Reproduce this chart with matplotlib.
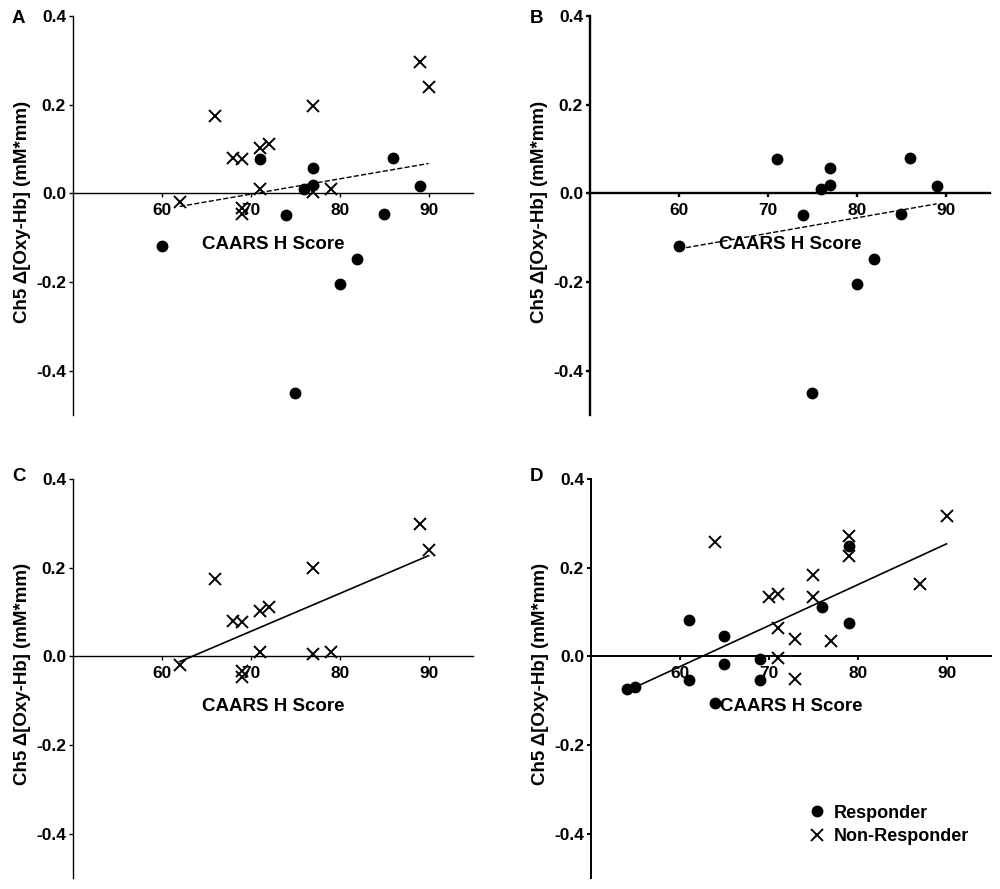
import numpy as np
import matplotlib
matplotlib.use('Agg')
import matplotlib.pyplot as plt
from matplotlib.lines import Line2D
from matplotlib.ticker import FormatStrFormatter

plt.rcParams['font.family'] = ['Liberation Sans', 'DejaVu Sans']
plt.rcParams['font.weight'] = 'bold'
plt.rcParams['axes.unicode_minus'] = False

# Panels A-C: same cohort (CAARS H score vs Ch5 change)
resp_x = [60, 71, 74, 76, 77, 77, 75, 80, 82, 85, 86, 89]
resp_y = [-0.119, 0.077, -0.049, 0.009, 0.058, 0.019, -0.451, -0.205, -0.148, -0.047, 0.080, 0.017]
nonresp_x = [62, 66, 68, 69, 69, 69, 71, 72, 71, 77, 77, 79, 89, 90]
nonresp_y = [-0.019, 0.174, 0.079, 0.077, -0.033, -0.046, 0.102, 0.111, 0.009,
             0.198, 0.004, 0.010, 0.297, 0.239]

# Panel D cohort
d_resp_x = [54, 55, 61, 61, 65, 65, 64, 69, 69, 76, 79, 79]
d_resp_y = [-0.073, -0.069, 0.082, -0.053, 0.046, -0.017, -0.105, -0.007, -0.054, 0.110, 0.248, 0.074]
d_nonresp_x = [64, 70, 71, 71, 71, 73, 73, 75, 75, 77, 79, 79, 87, 90]
d_nonresp_y = [0.257, 0.134, 0.140, 0.064, -0.005, 0.038, -0.051, 0.183, 0.133,
               0.034, 0.272, 0.225, 0.163, 0.317]

# x range over which the panel A regression line is drawn
fit_span_a = (62, 90)

xticks = [60, 70, 80, 90]
yticks = [-0.4, -0.2, 0.0, 0.2, 0.4]
letters = ['A', 'B', 'C', 'D']
xlabel = 'CAARS H Score'
ylabel = 'Ch5 \u0394[Oxy-Hb] (mM*mm)'

fig = plt.figure(figsize=(10, 8.89), dpi=100)
ax_a = fig.add_axes([0.073, 0.533, 0.400, 0.449])
ax_b = fig.add_axes([0.590, 0.533, 0.400, 0.449])
ax_c = fig.add_axes([0.073, 0.0124, 0.400, 0.449])
ax_d = fig.add_axes([0.591, 0.0124, 0.400, 0.449])
axes = [ax_a, ax_b, ax_c, ax_d]
spine_w = [1.0, 1.7, 1.0, 1.4]


def dots(ax, x, y):
    ax.plot(x, y, 'o', color='black', markersize=7.5, zorder=3, clip_on=False)


def crosses(ax, x, y):
    ax.plot(x, y, 'x', color='black', markersize=8.5, markeredgewidth=1.4, zorder=3, clip_on=False)


def fit(ax, x, y, x0, x1, ls, lw):
    p = np.polyfit(x, y, 1)
    xs = np.array([x0, x1])
    ax.plot(xs, np.polyval(p, xs), ls, color='black', linewidth=lw, zorder=2)


# A: all participants, dashed fit
dots(ax_a, resp_x, resp_y)
crosses(ax_a, nonresp_x, nonresp_y)
fit(ax_a, resp_x + nonresp_x, resp_y + nonresp_y, fit_span_a[0], fit_span_a[1], '--', 1.0)

# B: responders only
dots(ax_b, resp_x, resp_y)
fit(ax_b, resp_x, resp_y, min(resp_x), max(resp_x), '--', 1.0)

# C: non-responders only
crosses(ax_c, nonresp_x, nonresp_y)
fit(ax_c, nonresp_x, nonresp_y, min(nonresp_x), max(nonresp_x), '-', 1.2)

# D: second cohort
dots(ax_d, d_resp_x, d_resp_y)
crosses(ax_d, d_nonresp_x, d_nonresp_y)
all_dx = d_resp_x + d_nonresp_x
fit(ax_d, all_dx, d_resp_y + d_nonresp_y, min(all_dx), max(all_dx), '-', 1.2)

for ax, letter, lw in zip(axes, letters, spine_w):
    ax.set_xlim(50, 95)
    ax.set_ylim(-0.5, 0.4)
    ax.spines['top'].set_visible(False)
    ax.spines['right'].set_visible(False)
    ax.spines['bottom'].set_position(('data', 0))
    ax.spines['left'].set_linewidth(lw)
    ax.spines['bottom'].set_linewidth(lw)
    ax.set_xticks(xticks)
    ax.set_yticks(yticks)
    ax.yaxis.set_major_formatter(FormatStrFormatter('%.1f'))
    ax.tick_params(axis='x', length=3, width=lw, pad=4, labelsize=12.5)
    ax.tick_params(axis='y', length=3, width=lw, pad=2, labelsize=12.5)
    for t in ax.get_xticklabels() + ax.get_yticklabels():
        t.set_fontweight('bold')
    ax.set_xlabel(xlabel, fontsize=13.5, fontweight='bold')
    ax.xaxis.set_label_coords(0.5, 0.45)
    ax.xaxis.label.set_verticalalignment('top')
    ax.set_ylabel(ylabel, fontsize=13.5, fontweight='bold')
    ax.yaxis.set_label_coords(-0.105, 0.51)
    ax.patch.set_alpha(0)

fig.text(0.012, 0.989, 'A', fontsize=13.5, fontweight='bold', va='top')
fig.text(0.530, 0.989, 'B', fontsize=13.5, fontweight='bold', va='top')
fig.text(0.012, 0.474, 'C', fontsize=13.5, fontweight='bold', va='top')
fig.text(0.530, 0.474, 'D', fontsize=13.5, fontweight='bold', va='top')

handles = [Line2D([], [], marker='o', color='black', linestyle='none', markersize=7.5),
           Line2D([], [], marker='x', color='black', linestyle='none', markersize=8.5, markeredgewidth=1.4)]
ax_d.legend(handles, ['Responder', 'Non-Responder'], loc='center left',
            bbox_to_anchor=(0.52, 0.133), frameon=False, fontsize=13,
            handlelength=1.0, handletextpad=0.4, labelspacing=0.35, borderpad=0)

fig.savefig('out.png', dpi=100)
